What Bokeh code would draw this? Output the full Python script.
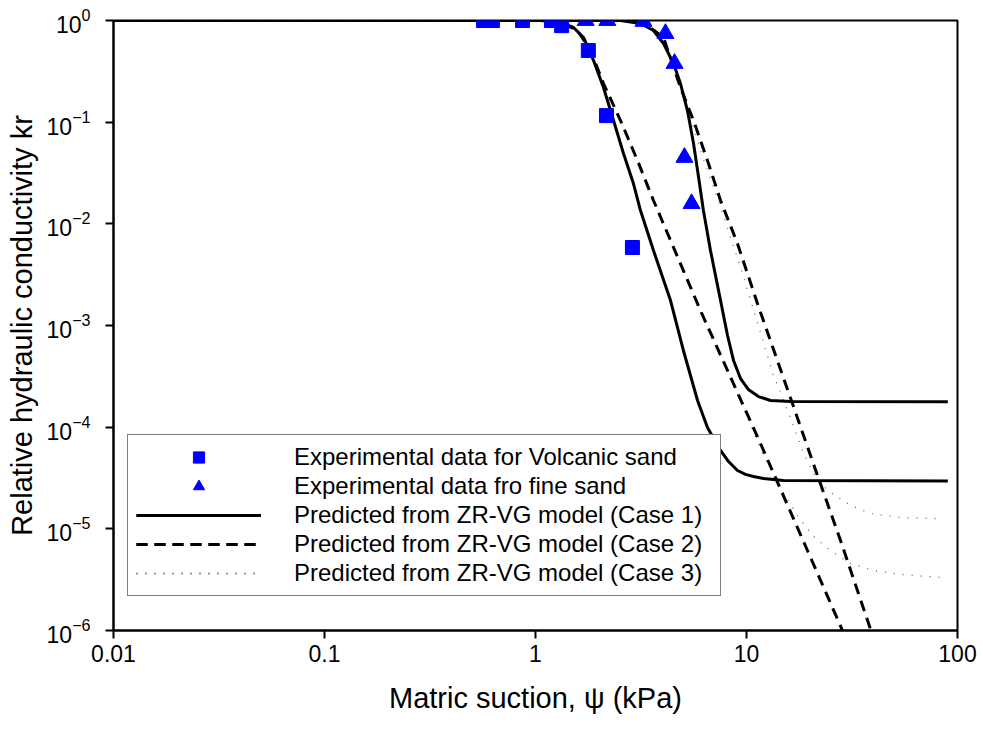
from bokeh.plotting import figure
from bokeh.models import FixedTicker, CustomJSTickFormatter, LogTickFormatter, Legend, LegendItem
from bokeh.embed import file_html
from bokeh.resources import INLINE

# Experimental data
vol_psi = [0.567, 0.625, 0.868, 1.19, 1.33, 1.78, 2.17, 2.88]
vol_kr = [1.0, 1.0, 1.0, 1.0, 0.89, 0.507, 0.116, 0.00585]
fine_psi = [1.73, 2.19, 3.25, 4.13, 4.56, 5.08, 5.49]
fine_kr = [1.0, 1.0, 0.98, 0.745, 0.378, 0.045, 0.0158]

# Case 1 (solid)
c1v_psi = [0.01, 1.056, 1.314, 1.514, 1.689, 1.884, 2.10, 2.344, 2.612, 2.912, 3.145,
           3.624, 4.365, 5.023, 5.861, 6.531, 7.534, 8.22, 9.06, 9.89, 10.8, 12.05, 14.97, 90]
c1v_kr = [1, 1, 0.956, 0.853, 0.681, 0.404, 0.219, 0.1038, 0.0492, 0.0249, 0.01352,
          0.00547, 0.00176, 5.68e-4, 1.83e-4, 9.93e-5, 5.9e-5, 4.59e-5, 3.75e-5, 3.43e-5,
          3.27e-5, 3.13e-5, 2.99e-5, 2.95e-5]
c1f_psi = [0.01, 2.529, 3.145, 3.624, 4.043, 4.508, 4.865, 5.25, 5.61, 5.93, 6.25, 6.75,
           7.534, 8.13, 8.68, 9.37, 10.2, 11.4, 13.0, 16.2, 90]
c1f_kr = [1, 1, 0.934, 0.797, 0.594, 0.378, 0.240, 0.130, 0.0617, 0.0286, 0.01352, 0.00547,
          0.00176, 7.97e-4, 4.53e-4, 3.01e-4, 2.35e-4, 2.0e-4, 1.83e-4, 1.79e-4, 1.78e-4]

# Case 2 (dashed)
c2v_psi = [0.01, 1.056, 1.314, 1.581, 1.823, 2.10, 2.529, 3.043, 3.624, 6.05, 11.65, 19.45, 28.5]
c2v_kr = [1, 1, 0.956, 0.797, 0.507, 0.240, 0.1038, 0.0420, 0.01697, 0.001405, 6.91e-5, 6.12e-6, 1e-6]
c2f_psi = [0.01, 2.670, 3.25, 4.043, 4.865, 5.61, 6.531, 7.534, 9.06, 11.27, 16.2, 21.7, 27.9, 38.9]
c2f_kr = [1, 1, 0.956, 0.681, 0.219, 0.1038, 0.0420, 0.01697, 0.00641, 0.001645, 1.91e-4,
          3.35e-5, 7.68e-6, 1e-6]

# Case 3 (dotted)
c3v_psi = [0.01, 1.056, 1.314, 1.581, 1.823, 2.10, 2.529, 3.043, 3.624, 6.05, 9.89, 11.91,
           14.97, 17.46, 20.56, 25.0, 31.1, 40.0, 53.7, 83.0]
c3v_kr = [1, 1, 0.956, 0.797, 0.507, 0.240, 0.1038, 0.0420, 0.01697, 0.001343, 1.39e-4, 5.51e-5,
          2.23e-5, 1.35e-5, 8.6e-6, 6.12e-6, 4.56e-6, 3.89e-6, 3.56e-6, 3.32e-6]
c3f_psi = [0.01, 2.670, 3.25, 4.043, 4.865, 6.05, 7.69, 9.57, 11.65, 13.43, 16.2, 18.62, 21.7,
           25.0, 31.1, 38.7, 53.7, 83.0]
c3f_kr = [1, 1, 0.956, 0.681, 0.2295, 0.0526, 0.01293, 0.00325, 8.53e-4, 3.22e-4, 1.22e-4,
          5.51e-5, 2.99e-5, 2.28e-5, 1.70e-5, 1.42e-5, 1.29e-5, 1.26e-5]

x_ticks = [0.01, 0.1, 1, 10, 100]
y_ticks = [1e-6, 1e-5, 1e-4, 1e-3, 1e-2, 1e-1, 1]

labels = ["Experimental data for Volcanic sand",
          "Experimental data fro fine sand",
          "Predicted from ZR-VG model (Case 1)",
          "Predicted from ZR-VG model (Case 2)",
          "Predicted from ZR-VG model (Case 3)"]

FONT = "Liberation Sans"

p = figure(width=983, height=729, x_axis_type="log", y_axis_type="log",
           x_range=(0.01, 100), y_range=(1e-6, 1),
           output_backend="svg", toolbar_location=None,
           min_border_left=113, min_border_right=26, min_border_top=20, min_border_bottom=99)

p.xgrid.visible = False
p.ygrid.visible = False
p.outline_line_color = "black"
p.outline_line_width = 2
p.background_fill_color = "white"
p.border_fill_color = "white"

for ax in (p.xaxis[0], p.yaxis[0]):
    ax.axis_line_width = 2
    ax.axis_line_color = "black"
    ax.major_tick_line_width = 2
    ax.major_tick_out = 8
    ax.major_tick_in = 0
    ax.minor_tick_line_color = None
    ax.major_label_text_font = FONT
    ax.major_label_text_font_size = "23px"
    ax.major_label_text_color = "black"
    ax.axis_label_text_font = FONT
    ax.axis_label_text_font_size = "29px"
    ax.axis_label_text_font_style = "normal"
    ax.axis_label_text_color = "black"

p.xaxis.ticker = FixedTicker(ticks=x_ticks, minor_ticks=[])
p.xaxis.formatter = CustomJSTickFormatter(code="return String(tick);")
p.yaxis.ticker = FixedTicker(ticks=y_ticks, minor_ticks=[])
p.yaxis.formatter = LogTickFormatter()
p.xaxis.major_label_standoff = 6
p.yaxis.major_label_standoff = 15
p.xaxis.axis_label = "Matric suction, \u03c8 (kPa)"
p.yaxis.axis_label = "Relative hydraulic conductivity kr"
p.xaxis.axis_label_standoff = 17
p.yaxis.axis_label_standoff = 6

solid_kw = dict(line_color="black", line_width=3)
dash_kw = dict(line_color="black", line_width=3, line_dash="11 7")
dot_kw = dict(line_color="#666666", line_width=1.3, line_dash="1 8")

r3a = p.line(c3v_psi, c3v_kr, **dot_kw)
r3b = p.line(c3f_psi, c3f_kr, **dot_kw)
r2a = p.line(c2v_psi, c2v_kr, **dash_kw)
r2b = p.line(c2f_psi, c2f_kr, **dash_kw)
r1a = p.line(c1v_psi, c1v_kr, **solid_kw)
r1b = p.line(c1f_psi, c1f_kr, **solid_kw)

rv = p.scatter(vol_psi, vol_kr, marker="square", size=14, fill_color="#0000FF", line_color="#0000FF")
rf = p.scatter(fine_psi, fine_kr, marker="triangle", size=17, fill_color="#0000FF", line_color="#0000FF")

legend = Legend(items=[
    LegendItem(label=labels[0], renderers=[rv]),
    LegendItem(label=labels[1], renderers=[rf]),
    LegendItem(label=labels[2], renderers=[r1a, r1b]),
    LegendItem(label=labels[3], renderers=[r2a, r2b]),
    LegendItem(label=labels[4], renderers=[r3a, r3b]),
], location=(14, 34), glyph_width=125, glyph_height=28, label_height=28,
    label_standoff=33, padding=8, spacing=1, margin=0, label_width=418,
    label_text_font=FONT, label_text_font_size="24px", label_text_color="black",
    border_line_color="black", border_line_width=1.5, background_fill_color="white",
    background_fill_alpha=1.0)
p.add_layout(legend)

open("out.html", "w").write(file_html(p, INLINE))
